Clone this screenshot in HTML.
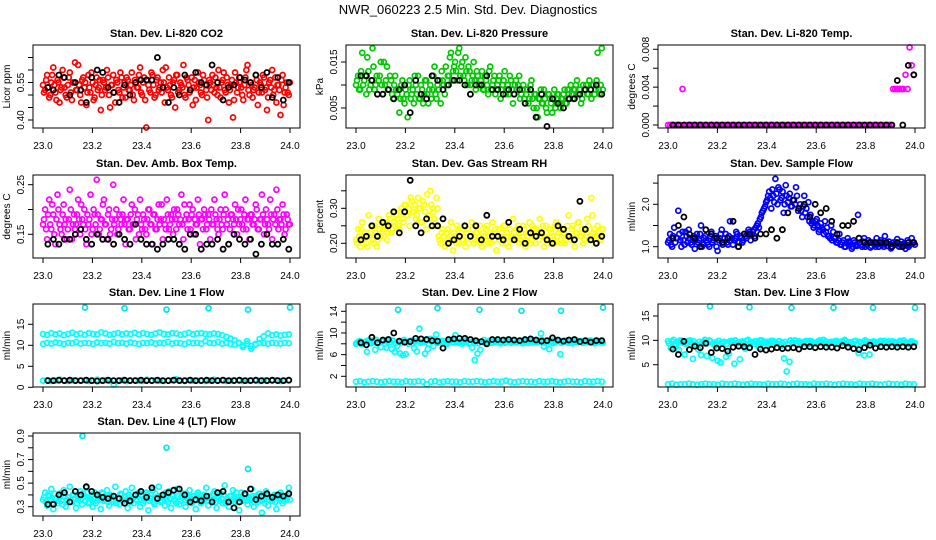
<!DOCTYPE html>
<html><head><meta charset="utf-8"><title>NWR_060223 Diagnostics</title>
<style>
html,body{margin:0;padding:0;background:#fff;}
svg{display:block;font-family:"Liberation Sans",Arial,sans-serif;}
</style></head>
<body>
<svg id="fig" width="936" height="540" viewBox="0 0 936 540" xmlns="http://www.w3.org/2000/svg">
<text x="468" y="14" text-anchor="middle" font-size="13">NWR_060223  2.5 Min. Std. Dev. Diagnostics</text>
</svg>
<script>
// ---------- data ----------
const xTickLabels = ["23.0","23.2","23.4","23.6","23.8","24.0"];
const xTickValues = [23.0,23.2,23.4,23.6,23.8,24.0];
const outlierTimes = [23.17,23.33,23.5,23.67,23.83,24.0];

const co2Vals = [0.54,0.52,0.58,0.49,0.55,0.61,0.51,0.56,0.47,0.53,0.57,0.50,0.54,0.59,0.48,0.55,0.52,0.62,0.50,0.56,
0.53,0.46,0.58,0.51,0.55,0.49,0.57,0.53,0.44,0.56,0.52,0.60,0.50,0.54,0.58,0.47,0.55,0.51,0.57,0.53,
0.49,0.56,0.52,0.59,0.48,0.55,0.53,0.61,0.50,0.57,0.37,0.54,0.51,0.58,0.49,0.56,0.52,0.55,0.60,0.47,
0.53,0.57,0.50,0.55,0.45,0.58,0.52,0.54,0.62,0.49,0.56,0.51,0.57,0.53,0.48,0.59,0.54,0.50,0.56,0.52,
0.40,0.55,0.58,0.51,0.53,0.60,0.49,0.56,0.52,0.57,0.47,0.54,0.41,0.59,0.51,0.55,0.53,0.48,0.57,0.62,
0.50,0.54,0.52,0.58,0.46,0.55,0.51,0.57,0.53,0.49,0.56,0.60,0.52,0.47,0.54,0.42,0.58,0.51,0.55,0.50];
const co2ValsB = [0.51,0.56,0.53,0.50,0.58,0.54,0.48,0.55,0.52,0.60,0.53,0.49,0.57,0.51,0.55,0.63,0.52,0.54,0.47,0.57,
0.55,0.51,0.53,0.59,0.48,0.54,0.52,0.56,0.50,0.55,0.53,0.57,0.45,0.54,0.51,0.56,0.52,0.59,0.49,0.55,
0.57,0.52,0.54,0.50,0.56,0.53,0.58,0.51,0.55,0.48,0.56,0.52,0.59,0.54,0.50,0.57,0.53,0.51,0.55,0.61,
0.52,0.54,0.49,0.56,0.58,0.51,0.55,0.53,0.50,0.57,0.54,0.52,0.46,0.56,0.53,0.55,0.51,0.58,0.54,0.49,
0.56,0.52,0.54,0.57,0.50,0.53,0.55,0.59,0.51,0.54,0.52,0.56,0.48,0.55,0.53,0.57,0.50,0.54,0.60,0.52,
0.55,0.49,0.53,0.56,0.51,0.54,0.58,0.52,0.44,0.55,0.53,0.50,0.57,0.54,0.52,0.56,0.46,0.53,0.51,0.55];
const co2Black = [0.53,0.52,0.58,0.57,0.50,0.55,0.52,0.47,0.57,0.60,0.59,0.53,0.51,0.47,0.54,0.50,0.55,0.56,0.56,0.56,0.65,0.53,0.47,0.53,0.50,0.58,0.52,0.59,0.55,0.54,0.62,0.55,0.48,0.53,0.54,0.57,0.56,0.55,0.58,0.53,0.59,0.49,0.57,0.48,0.55];

const pressVals = [0.010,0.012,0.009,0.017,0.011,0.008,0.013,0.010,0.018,0.009,0.012,0.011,0.015,0.008,0.010,0.014,0.009,0.011,0.007,0.012,
0.008,0.004,0.010,0.007,0.009,0.003,0.011,0.008,0.006,0.010,0.012,0.007,0.009,0.008,0.011,0.006,0.010,0.009,0.014,0.007,
0.009,0.006,0.011,0.008,0.010,0.012,0.017,0.013,0.015,0.011,0.018,0.014,0.012,0.016,0.010,0.013,0.011,0.015,0.009,0.012,
0.010,0.013,0.009,0.011,0.008,0.014,0.010,0.012,0.009,0.011,0.007,0.010,0.013,0.009,0.008,0.011,0.006,0.010,0.009,0.012,
0.008,0.010,0.006,0.009,0.007,0.011,0.005,0.008,0.003,0.007,0.006,0.009,0.005,0.008,0.007,0.004,0.009,0.006,0.008,0.005,
0.007,0.009,0.006,0.008,0.010,0.007,0.009,0.011,0.008,0.006,0.010,0.009,0.008,0.011,0.007,0.010,0.009,0.017,0.008,0.018];
const pressValsB = [0.011,0.009,0.013,0.010,0.012,0.016,0.009,0.011,0.014,0.010,0.008,0.012,0.010,0.015,0.011,0.009,0.012,0.008,0.010,0.009,
0.009,0.007,0.011,0.006,0.008,0.010,0.007,0.009,0.012,0.008,0.007,0.010,0.006,0.011,0.008,0.009,0.007,0.012,0.008,0.010,
0.011,0.013,0.010,0.014,0.012,0.016,0.011,0.014,0.013,0.017,0.012,0.015,0.011,0.013,0.014,0.010,0.012,0.011,0.013,0.010,
0.011,0.009,0.012,0.010,0.013,0.009,0.011,0.008,0.010,0.012,0.009,0.011,0.008,0.010,0.012,0.009,0.008,0.011,0.010,0.007,
0.009,0.007,0.008,0.006,0.010,0.007,0.008,0.005,0.007,0.009,0.006,0.007,0.004,0.008,0.006,0.007,0.005,0.008,0.006,0.007,
0.008,0.006,0.009,0.007,0.008,0.009,0.010,0.008,0.009,0.007,0.009,0.010,0.008,0.009,0.010,0.008,0.011,0.009,0.010,0.009];
const pressBlack = [0.012,0.012,0.011,0.008,0.008,0.009,0.007,0.009,0.010,0.004,0.011,0.008,0.007,0.012,0.011,0.009,0.010,0.011,0.011,0.010,0.008,0.010,0.010,0.012,0.009,0.009,0.008,0.009,0.008,0.009,0.006,0.009,0.003,0.008,0.001,0.007,0.006,0.005,0.007,0.007,0.008,0.009,0.009,0.010,0.008];

const tempVals = [0,0,0,0,0,0,0,0.0038,0,0,0,0,0,0,0,0,0,0,0,0,0,0,0,0,0,0,0,0,0,0,0,0,0,0,0,0,0,0,0,0,
0,0,0,0,0,0,0,0,0,0,0,0,0,0,0,0,0,0,0,0,0,0,0,0,0,0,0,0,0,0,0,0,0,0,0,0,0,0,0,0,
0,0,0,0,0,0,0,0,0,0,0,0,0,0,0,0,0,0,0,0,0,0,0,0,0,0,0,0,0,0.0038,0.0038,0.0038,0.0038,0.0038,0.0038,0.0053,0.0038,0.0082,0.0063,0.0053];
const tempBlack = [0,0,0,0,0,0,0,0,0,0,0,0,0,0,0,0,0,0,0,0,0,0,0,0,0,0,0,0,0,0,0,0,0,0,0,0,0,0,0,0,0,0.0047,0,0.0063,0.0053];

const ambVals = [0.17,0.20,0.14,0.22,0.16,0.19,0.13,0.23,0.17,0.15,0.21,0.18,0.16,0.24,0.14,0.19,0.17,0.22,0.15,0.18,
0.20,0.13,0.17,0.23,0.16,0.19,0.26,0.15,0.18,0.21,0.17,0.14,0.20,0.16,0.25,0.18,0.15,0.19,0.17,0.22,
0.13,0.18,0.16,0.21,0.17,0.14,0.19,0.22,0.16,0.18,0.15,0.20,0.17,0.13,0.19,0.16,0.21,0.18,0.14,0.17,
0.22,0.16,0.19,0.15,0.18,0.20,0.17,0.23,0.14,0.18,0.16,0.21,0.19,0.15,0.17,0.22,0.13,0.18,0.20,0.16,
0.19,0.14,0.17,0.22,0.18,0.15,0.20,0.16,0.23,0.17,0.13,0.19,0.18,0.21,0.15,0.17,0.20,0.16,0.22,0.18,
0.14,0.19,0.17,0.21,0.16,0.18,0.23,0.15,0.20,0.17,0.22,0.14,0.19,0.24,0.16,0.18,0.21,0.15,0.19,0.17];
const ambValsB = [0.18,0.16,0.19,0.17,0.21,0.15,0.18,0.20,0.16,0.19,0.17,0.14,0.18,0.20,0.17,0.16,0.19,0.18,0.21,0.17,
0.16,0.19,0.18,0.15,0.20,0.17,0.19,0.16,0.18,0.22,0.17,0.19,0.15,0.18,0.17,0.20,0.16,0.18,0.19,0.17,
0.18,0.16,0.19,0.17,0.20,0.18,0.15,0.17,0.19,0.16,0.18,0.20,0.17,0.19,0.16,0.18,0.17,0.21,0.18,0.16,
0.19,0.17,0.18,0.20,0.16,0.19,0.18,0.17,0.21,0.19,0.18,0.16,0.20,0.18,0.17,0.19,0.18,0.16,0.19,0.17,
0.18,0.20,0.17,0.19,0.16,0.18,0.17,0.19,0.20,0.18,0.16,0.19,0.17,0.18,0.20,0.18,0.17,0.19,0.16,0.18,
0.19,0.17,0.18,0.20,0.16,0.18,0.19,0.17,0.18,0.16,0.19,0.18,0.17,0.20,0.18,0.17,0.19,0.16,0.18,0.17];
const ambBlack = [0.13,0.14,0.13,0.14,0.14,0.15,0.16,0.14,0.13,0.15,0.14,0.14,0.13,0.15,0.14,0.13,0.17,0.14,0.13,0.13,0.12,0.13,0.14,0.14,0.13,0.12,0.15,0.15,0.12,0.13,0.13,0.14,0.12,0.13,0.15,0.14,0.13,0.14,0.11,0.13,0.15,0.13,0.13,0.14,0.12];

const rhVals = [0.21,0.24,0.19,0.26,0.22,0.20,0.28,0.23,0.21,0.25,0.19,0.27,0.22,0.24,0.26,0.21,0.28,0.23,0.29,0.25,
0.27,0.24,0.30,0.26,0.31,0.28,0.25,0.32,0.29,0.27,0.33,0.30,0.26,0.31,0.24,0.28,0.35,0.30,0.27,0.33,
0.22,0.20,0.24,0.19,0.23,0.21,0.26,0.18,0.22,0.25,0.20,0.23,0.21,0.19,0.24,0.22,0.26,0.20,0.23,0.21,
0.25,0.19,0.22,0.24,0.20,0.23,0.26,0.21,0.18,0.24,0.22,0.20,0.25,0.23,0.19,0.22,0.27,0.21,0.24,0.20,
0.23,0.25,0.19,0.22,0.26,0.21,0.24,0.20,0.23,0.27,0.22,0.19,0.25,0.21,0.24,0.22,0.20,0.26,0.23,0.21,
0.24,0.20,0.22,0.28,0.21,0.25,0.19,0.23,0.26,0.22,0.20,0.24,0.27,0.21,0.33,0.23,0.20,0.25,0.22,0.24];
const rhValsB = [0.20,0.22,0.24,0.21,0.23,0.19,0.22,0.25,0.20,0.23,0.21,0.24,0.26,0.22,0.25,0.23,0.27,0.24,0.26,0.28,
0.25,0.29,0.27,0.31,0.28,0.30,0.33,0.29,0.31,0.28,0.30,0.26,0.32,0.29,0.34,0.27,0.31,0.29,0.25,0.30,
0.21,0.23,0.22,0.20,0.24,0.22,0.21,0.23,0.20,0.24,0.22,0.21,0.25,0.23,0.20,0.22,0.24,0.21,0.23,0.22,
0.20,0.23,0.21,0.25,0.22,0.20,0.23,0.24,0.22,0.21,0.23,0.25,0.20,0.22,0.24,0.21,0.23,0.22,0.25,0.21,
0.22,0.24,0.21,0.23,0.20,0.25,0.22,0.24,0.21,0.23,0.25,0.22,0.20,0.24,0.23,0.21,0.25,0.22,0.24,0.20,
0.23,0.21,0.25,0.22,0.24,0.21,0.23,0.26,0.22,0.24,0.21,0.23,0.25,0.22,0.28,0.24,0.22,0.23,0.21,0.24];
const rhBlack = [0.21,0.22,0.25,0.22,0.26,0.25,0.29,0.23,0.29,0.38,0.25,0.23,0.27,0.25,0.25,0.27,0.20,0.21,0.22,0.25,0.22,0.25,0.21,0.28,0.22,0.22,0.21,0.26,0.21,0.24,0.20,0.23,0.22,0.23,0.21,0.20,0.25,0.24,0.22,0.21,0.32,0.24,0.21,0.20,0.22];

const flowVals = [1.10,1.30,1.00,1.45,1.20,1.85,1.15,1.35,1.05,1.25,1.40,1.10,1.20,0.95,1.30,1.15,1.50,1.05,1.25,1.10,
1.00,1.35,1.15,1.25,0.90,1.20,1.40,1.10,1.30,1.05,1.60,1.20,1.15,1.35,1.00,1.25,1.10,1.30,1.20,1.40,
1.15,1.35,1.25,1.50,1.45,1.70,1.85,1.95,2.10,2.30,1.90,2.20,2.60,2.00,2.35,2.15,1.80,2.45,2.05,2.25,
1.95,2.10,2.40,1.85,2.00,1.70,2.20,1.90,2.05,1.75,1.60,1.50,1.65,1.35,1.55,1.40,1.60,1.45,1.25,1.50,
1.35,1.20,1.10,1.30,1.05,1.15,1.00,1.20,1.10,0.95,1.15,1.05,1.75,1.10,1.00,1.20,1.05,1.15,0.98,1.10,
1.05,1.20,1.00,1.15,1.08,1.25,1.02,1.12,0.96,1.10,1.05,1.18,1.00,1.12,1.06,0.95,1.15,1.04,1.20,1.10];
const flowValsB = [1.15,1.05,1.25,1.10,1.20,1.30,1.00,1.15,1.35,1.10,1.20,1.05,1.25,1.15,1.10,1.30,1.00,1.20,1.15,1.05,
1.25,1.10,1.20,1.00,1.15,1.30,1.05,1.20,1.10,1.25,1.15,1.05,1.20,1.30,1.10,1.20,1.15,1.25,1.30,1.35,
1.30,1.40,1.45,1.55,1.65,1.80,1.90,2.05,2.20,2.15,2.35,2.05,2.25,2.40,2.10,2.30,2.00,2.20,2.15,1.95,
2.10,2.00,2.20,1.90,1.85,1.95,1.80,1.70,1.60,1.55,1.45,1.60,1.50,1.40,1.45,1.30,1.35,1.25,1.20,1.15,
1.20,1.10,1.15,1.05,1.10,1.00,1.08,1.12,1.05,1.00,1.10,1.02,1.08,1.05,1.12,1.00,1.06,1.10,1.02,1.08,
1.00,1.06,1.10,1.04,1.00,1.08,1.02,1.06,1.00,1.05,1.10,1.02,1.06,1.00,1.08,1.04,1.00,1.06,1.10,1.05];
const flowBlack = [1.2,1.5,1.7,1.3,1.2,1.0,1.4,1.3,1.2,1.1,1.2,1.6,1.0,1.3,1.3,1.2,1.3,1.3,1.4,1.2,1.4,1.8,2.1,1.9,2.0,1.7,2.0,1.8,1.9,1.6,1.3,1.5,1.5,1.6,1.2,1.1,1.1,1.1,1.1,1.1,1.0,1.1,1.0,1.1,1.1];

const line1Upper = [12.7,12.5,12.9,12.6,12.8,12.4,12.7,13.0,12.6,12.8,12.5,12.9,12.7,12.6,13.1,12.8,12.5,12.7,12.9,12.6,
12.8,12.7,13.0,12.6,12.9,12.7,12.5,12.8,13.1,12.7,12.6,12.9,12.8,12.5,12.7,13.0,12.6,12.8,12.9,12.7,
12.6,12.8,12.7,12.4,12.0,11.6,11.2,10.6,9.6,11.0,9.2,10.2,11.5,12.2,12.8,12.4,12.6,12.3,12.5,12.6];
const line1Lower = [10.3,10.6,10.4,10.7,10.5,10.3,10.6,10.5,10.8,10.4,10.6,10.5,10.3,10.7,10.5,10.6,10.4,10.8,10.5,10.6,
10.4,10.7,10.5,10.3,10.6,10.5,10.7,10.4,10.6,10.5,10.8,10.4,10.6,10.5,10.3,10.7,10.5,10.6,10.4,11.0,
10.6,10.5,10.8,10.4,10.6,10.3,10.2,10.5,10.0,10.4,9.8,10.3,10.6,10.5,10.4,10.6,10.5,10.4,10.6,10.5];
const line1Low = [1.6,1.7,1.5,1.6,1.8,1.6,1.5,1.7,1.6,1.6,1.7,1.5,1.6,1.8,1.6,1.7,1.6,0.7,1.6,1.7,
1.5,1.6,1.7,1.6,1.5,1.8,1.6,1.7,1.6,1.5,1.6,1.7,1.9,1.6,1.5,1.7,1.6,1.6,1.7,1.5,
1.6,1.8,1.6,1.7,1.5,1.6,1.7,1.6,1.5,1.6,1.7,1.6,1.5,1.7,1.6,1.6,1.7,1.5,1.6,1.7];
const line1Out = [19.0,18.8,18.5,18.8,18.5,19.0];
const line1Black = [1.6,1.6,1.7,1.6,1.7,1.6,1.6,1.7,1.6,1.5,1.6,1.7,1.6,1.6,1.7,1.6,1.6,1.7,1.6,1.6,1.7,1.6,1.6,1.7,1.6,1.6,1.7,1.6,1.6,1.7,1.6,1.6,1.7,1.6,1.6,1.7,1.6,1.6,1.7,1.6,1.6,1.7,1.6,1.6,1.7];

const line2Main = [8.0,8.4,7.9,8.3,6.5,8.2,8.6,6.9,8.1,7.4,8.5,7.3,8.8,7.0,6.5,7.6,6.2,5.9,6.1,8.0,
8.6,7.2,6.6,10.8,8.3,6.2,7.0,8.9,7.6,9.7,8.2,8.5,8.4,8.0,8.6,8.3,9.6,8.2,8.5,8.3,
8.7,8.0,7.3,5.0,6.2,6.9,8.3,8.1,8.5,8.2,8.6,8.4,8.3,8.5,8.2,8.7,8.4,8.6,8.3,8.5,
8.4,8.6,8.2,8.5,8.7,8.3,8.6,9.9,7.5,8.4,7.0,8.6,8.3,8.5,6.1,8.4,8.6,8.2,8.5,8.3,
8.6,8.4,8.2,8.5,8.3,8.6,8.4,8.2,8.5,8.3];
const line2MainB = [8.2,8.5,8.0,8.4,8.6,8.1,8.3,8.7,8.2,8.4,8.0,8.5,8.3,8.6,8.1,8.4,8.2,8.7,8.3,8.5,
8.1,8.4,8.6,8.2,8.3,8.5,8.0,8.4,8.6,8.2,8.3,8.5,8.1,8.4,8.7,8.2,8.5,8.3,8.0,8.4,
8.6,8.2,8.5,8.3,8.1,8.4,8.7,8.3,8.5,8.2,8.4,8.6,8.1,8.5,8.3,8.4,8.2,8.6,8.3,8.5,
8.1,8.4,8.6,8.2,8.5,8.3,8.4,8.7,8.2,8.5,8.3,8.1,8.4,8.6,8.2,8.5,8.3,8.4,8.1,8.6,
8.3,8.5,8.2,8.4,8.6,8.3,8.1,8.5,8.4,8.2];
const line2Low = [1.0,1.1,0.9,1.0,1.1,1.0,0.9,1.0,1.1,1.0,1.0,0.9,1.1,1.0,1.0,1.1,1.0,0.5,1.0,1.1,
0.9,1.0,1.1,1.0,1.0,0.9,1.1,1.0,1.0,1.1,1.0,0.9,1.0,1.1,1.0,1.0,1.2,1.0,0.9,1.0,
1.1,1.0,1.0,0.9,1.1,1.0,1.0,1.1,1.0,0.9,1.0,1.1,1.0,1.0,0.9,1.1,1.0,1.0,1.1,1.0];
const line2Out = [14.3,14.6,14.3,14.1,14.1,14.7];
const line2Black = [8.2,7.8,9.2,8.2,8.7,8.8,10.0,8.5,8.3,8.4,9.0,8.9,8.8,8.6,8.5,7.2,8.8,8.9,9.0,9.0,8.8,8.6,8.4,8.0,8.8,8.8,8.7,8.8,8.7,8.6,8.8,8.9,8.7,8.5,8.6,9.1,8.7,8.5,8.7,8.8,8.4,8.6,8.3,8.6,8.6];

const line3Main = [9.8,8.4,10.1,9.2,8.0,9.9,7.1,9.5,10.0,6.2,9.3,8.1,7.0,9.7,6.8,10.0,6.4,8.9,5.8,5.5,
9.6,6.6,7.3,9.9,5.2,9.4,6.1,9.8,8.3,10.1,9.5,9.2,9.8,8.6,10.0,9.4,9.7,9.1,9.9,9.5,
9.8,8.9,6.3,3.6,5.6,9.6,10.0,9.2,9.7,9.4,9.9,9.3,9.8,9.5,9.6,10.0,9.4,9.8,9.2,9.7,
9.5,9.9,9.3,9.8,10.1,9.4,9.6,9.2,9.9,7.4,9.5,6.9,9.8,7.1,9.4,9.7,9.3,9.9,9.5,9.6,
9.8,9.4,9.7,9.2,9.9,9.5,9.6,9.3,9.8,9.5];
const line3MainB = [9.4,9.8,9.2,9.7,10.0,9.5,9.3,9.9,9.6,9.8,9.2,9.7,9.5,10.1,9.4,9.8,9.3,9.6,9.9,9.5,
9.7,9.3,9.8,9.6,10.0,9.4,9.7,9.5,9.9,9.3,9.6,9.8,9.4,10.0,9.5,9.7,9.3,9.9,9.6,9.4,
9.8,9.5,9.7,9.3,10.0,9.6,9.4,9.8,9.5,9.7,9.3,9.9,9.6,9.4,9.8,9.5,10.1,9.7,9.4,9.6,
9.8,9.3,9.7,9.5,9.9,9.4,9.6,9.8,9.3,9.7,9.5,10.0,9.4,9.6,9.8,9.5,9.3,9.7,9.9,9.4,
9.6,9.8,9.5,9.3,9.7,10.0,9.4,9.6,9.8,9.5];
const line3Low = [1.0,1.1,0.9,1.0,1.0,1.1,1.0,0.9,1.0,1.1,1.0,1.0,0.9,1.1,1.0,1.0,1.1,1.0,0.9,1.0,
1.1,1.0,1.0,0.9,1.1,1.0,1.0,1.1,1.0,0.9,1.0,1.1,1.0,1.0,0.9,1.1,1.0,1.0,1.1,1.0,
0.9,1.0,1.1,1.0,1.0,0.9,1.1,1.0,1.0,1.1,1.0,0.9,1.0,1.1,1.0,1.0,0.9,1.1,1.0,1.0];
const line3Out = [17.0,16.8,16.7,16.7,16.7,16.7];
const line3Black = [8.2,7.1,9.8,8.1,8.8,8.5,9.4,7.5,8.4,8.3,7.8,8.6,8.8,8.7,8.5,7.1,8.2,8.0,8.2,8.5,8.3,8.4,8.5,8.2,8.7,8.7,8.5,8.7,8.6,8.6,8.4,8.9,8.6,8.3,8.1,8.5,9.0,8.4,8.7,8.6,8.7,8.6,8.7,8.6,8.7];

const line4Vals = [0.36,0.42,0.31,0.39,0.45,0.28,0.37,0.33,0.41,0.35,0.44,0.30,0.38,0.47,0.34,0.40,0.29,0.36,0.43,0.32,
0.39,0.46,0.33,0.37,0.30,0.42,0.35,0.38,0.28,0.41,0.36,0.44,0.31,0.39,0.34,0.47,0.37,0.32,0.40,0.35,
0.43,0.29,0.38,0.46,0.33,0.36,0.41,0.30,0.39,0.35,0.42,0.27,0.37,0.44,0.32,0.38,0.47,0.34,0.40,0.31,
0.36,0.43,0.29,0.39,0.35,0.45,0.32,0.38,0.41,0.30,0.37,0.44,0.33,0.39,0.28,0.42,0.36,0.34,0.40,0.46,
0.31,0.38,0.35,0.43,0.29,0.37,0.41,0.33,0.48,0.36,0.30,0.39,0.44,0.34,0.38,0.27,0.42,0.35,0.40,0.32,
0.37,0.45,0.30,0.39,0.34,0.41,0.25,0.36,0.43,0.31,0.38,0.35,0.40,0.28,0.37,0.42,0.33,0.39,0.36,0.46];
const line4ValsB = [0.38,0.34,0.40,0.36,0.33,0.41,0.37,0.35,0.39,0.32,0.42,0.36,0.38,0.34,0.40,0.37,0.33,0.39,0.36,0.41,
0.35,0.38,0.34,0.40,0.37,0.33,0.39,0.36,0.42,0.35,0.38,0.34,0.40,0.36,0.39,0.33,0.37,0.41,0.35,0.38,
0.36,0.40,0.34,0.37,0.39,0.35,0.42,0.36,0.33,0.38,0.40,0.35,0.37,0.34,0.41,0.36,0.39,0.35,0.38,0.42,
0.34,0.37,0.40,0.36,0.33,0.39,0.35,0.38,0.36,0.41,0.34,0.37,0.39,0.35,0.40,0.36,0.33,0.38,0.37,0.35,
0.39,0.36,0.41,0.34,0.38,0.35,0.37,0.40,0.33,0.36,0.39,0.35,0.38,0.42,0.34,0.37,0.36,0.40,0.35,0.38,
0.36,0.39,0.34,0.37,0.41,0.35,0.38,0.33,0.40,0.36,0.37,0.39,0.34,0.38,0.36,0.40,0.35,0.37,0.39,0.36];
const line4Out = [0.9,0.8,0.62];
const line4OutTimes = [23.16,23.5,23.83];
const line4Black = [0.32,0.32,0.40,0.42,0.34,0.43,0.40,0.47,0.43,0.40,0.38,0.37,0.39,0.37,0.33,0.35,0.40,0.43,0.38,0.46,0.37,0.40,0.42,0.44,0.45,0.40,0.34,0.36,0.35,0.39,0.34,0.42,0.43,0.34,0.29,0.34,0.41,0.45,0.36,0.39,0.41,0.38,0.40,0.39,0.41];

// ---------- layout ----------
const colLeft = [33, 346, 658];
const rowTop = [45, 175, 304, 433];
const boxW = 267, boxH = 83;
const svg = document.getElementById('fig');
const NS = 'http://www.w3.org/2000/svg';

function mk(tag, attrs, parent){
  const e = document.createElementNS(NS, tag);
  for (const k in attrs) e.setAttribute(k, attrs[k]);
  (parent||svg).appendChild(e);
  return e;
}
function times(n, t0, t1){ const a=[]; for(let i=0;i<n;i++) a.push(t0+(t1-t0)*i/(n-1)); return a; }

const panels = [
 {name:'co2', title:'Stan. Dev. Li-820 CO2', ylab:'Licor ppm', col:0,row:0, v0:0.40,p0:120,v1:0.55,p1:82.5,
  ticks:[0.40,0.45,0.50,0.55,0.60,0.65], labels:['0.40','0.55'], labelVals:[0.40,0.55],
  series:[{vals:co2Vals,color:'#ff0000'},{vals:co2ValsB,color:'#ff0000',off:true}], black:co2Black},
 {name:'pressure', title:'Stan. Dev. Li-820 Pressure', ylab:'kPa', col:1,row:0, v0:0.005,p0:108,v1:0.015,p1:62,
  ticks:[0.005,0.010,0.015], labels:['0.005','0.015'], labelVals:[0.005,0.015],
  series:[{vals:pressVals,color:'#00c800'},{vals:pressValsB,color:'#00c800',off:true}], black:pressBlack},
 {name:'li820-temp', title:'Stan. Dev. Li-820 Temp.', ylab:'degrees C', col:2,row:0, v0:0,p0:125,v1:0.008,p1:49.3,
  ticks:[0,0.002,0.004,0.006,0.008], labels:['0.000','0.004','0.008'], labelVals:[0,0.004,0.008],
  series:[{vals:tempVals,color:'#ff00ff'}], black:tempBlack},
 {name:'amb-box-temp', title:'Stan. Dev. Amb. Box Temp.', ylab:'degrees C', col:0,row:1, v0:0.15,p0:234.3,v1:0.25,p1:184.7,
  ticks:[0.15,0.20,0.25], labels:['0.15','0.25'], labelVals:[0.15,0.25],
  series:[{vals:ambVals,color:'#ff00ff'},{vals:ambValsB,color:'#ff00ff',off:true}], black:ambBlack},
 {name:'gas-stream-rh', title:'Stan. Dev. Gas Stream RH', ylab:'percent', col:1,row:1, v0:0.20,p0:243.3,v1:0.30,p1:208.3,
  ticks:[0.20,0.25,0.30,0.35], labels:['0.20','0.30'], labelVals:[0.20,0.30],
  series:[{vals:rhVals,color:'#ffff00'},{vals:rhValsB,color:'#ffff00',off:true}], black:rhBlack},
 {name:'sample-flow', title:'Stan. Dev. Sample Flow', ylab:'ml/min', col:2,row:1, v0:1.0,p0:246.7,v1:2.0,p1:204.3,
  ticks:[1.0,1.5,2.0,2.5], labels:['1.0','2.0'], labelVals:[1.0,2.0],
  series:[{vals:flowVals,color:'#0000ff'},{vals:flowValsB,color:'#0000ff',off:true}], black:flowBlack},
 {name:'line1-flow', title:'Stan. Dev. Line 1 Flow', ylab:'ml/min', col:0,row:2, v0:0,p0:387.3,v1:15,p1:324.3,
  ticks:[0,5,10,15], labels:['0','5','10','15'], labelVals:[0,5,10,15],
  series:[{vals:line1Upper,color:'#00ffff'},{vals:line1Lower,color:'#00ffff'},{vals:line1Low,color:'#00ffff'},{vals:line1Out,t:outlierTimes,color:'#00e5ee'}], black:line1Black},
 {name:'line2-flow', title:'Stan. Dev. Line 2 Flow', ylab:'ml/min', col:1,row:2, v0:2,p0:376.3,v1:14,p1:311.3,
  ticks:[2,4,6,8,10,12,14], labels:['2','6','10','14'], labelVals:[2,6,10,14],
  series:[{vals:line2Main,color:'#00ffff'},{vals:line2MainB,color:'#00ffff',off:true},{vals:line2Low,color:'#00ffff'},{vals:line2Out,t:outlierTimes,color:'#00e5ee'}], black:line2Black},
 {name:'line3-flow', title:'Stan. Dev. Line 3 Flow', ylab:'ml/min', col:2,row:2, v0:5,p0:364.7,v1:15,p1:316,
  ticks:[5,10,15], labels:['5','10','15'], labelVals:[5,10,15],
  series:[{vals:line3Main,color:'#00ffff'},{vals:line3MainB,color:'#00ffff',off:true},{vals:line3Low,color:'#00ffff'},{vals:line3Out,t:outlierTimes,color:'#00e5ee'}], black:line3Black},
 {name:'line4-flow', title:'Stan. Dev. Line 4 (LT) Flow', ylab:'ml/min', col:0,row:3, v0:0.3,p0:506.7,v1:0.9,p1:436,
  ticks:[0.3,0.4,0.5,0.6,0.7,0.8,0.9], labels:['0.3','0.5','0.7','0.9'], labelVals:[0.3,0.5,0.7,0.9],
  series:[{vals:line4Vals,color:'#00ffff'},{vals:line4ValsB,color:'#00ffff',off:true},{vals:line4Out,t:line4OutTimes,color:'#00e5ee'}], black:line4Black}
];

panels.forEach(p => {
  const L = colLeft[p.col], T = rowTop[p.row];
  const xs = t => L + 10 + (t - 23) * 247;
  const ys = v => p.p0 + (v - p.v0) * (p.p1 - p.p0) / (p.v1 - p.v0);
  const g = mk('g', {});
  
  

  const title = mk('text', {x: L + boxW/2, y: T - 8, 'text-anchor':'middle', 'font-size':11, 'font-weight':'bold'}, g);
  title.textContent = p.title;
  
  

  const pts = mk('g', {fill:'none', 'stroke-width':1.7}, g);
  
  
  p.series.forEach(s => {
    const tt = s.t || (s.off ? times(s.vals.length, 23.004, 23.999) : times(s.vals.length, 23.0, 23.995));
    s.vals.forEach((v, i) => {
      const c = mk('circle', {cx: xs(tt[i]).toFixed(1), cy: ys(v).toFixed(1), r: 2.5, stroke: s.color}, pts);
      
      
    });
  });
  const bt = times(p.black.length, 23.02, 23.995);
  p.black.forEach((v, i) => {
    const c = mk('circle', {cx: xs(bt[i]).toFixed(1), cy: ys(v).toFixed(1), r: 2.5, stroke: '#000', 'stroke-width':1.8}, pts);
    
    
  });

  const box = mk('rect', {x: L, y: T, width: boxW, height: boxH, fill:'none', stroke:'#000', 'stroke-width':1}, g);
  
  

  const xa = mk('g', {}, g);
  
  
  xTickValues.forEach((t, i) => {
    mk('line', {x1: xs(t), x2: xs(t), y1: T + boxH, y2: T + boxH + 5, stroke:'#000'}, xa);
    const tx = mk('text', {x: xs(t), y: T + boxH + 21, 'text-anchor':'middle', 'font-size':10}, xa);
    tx.textContent = xTickLabels[i];
    
    
  });

  const ya = mk('g', {}, g);
  
  
  p.ticks.forEach(v => {
    mk('line', {x1: L - 5, x2: L, y1: ys(v), y2: ys(v), stroke:'#000'}, ya);
  });
  p.labelVals.forEach((v, i) => {
    const x = L - 9, y = ys(v);
    const tx = mk('text', {x: x, y: y, 'text-anchor':'middle', 'font-size':10, transform:`rotate(-90 ${x} ${y})`}, ya);
    tx.textContent = p.labels[i];
    
    
  });
  const yx = L - 23, yy = T + boxH/2;
  const yl = mk('text', {x: yx, y: yy, 'text-anchor':'middle', 'font-size':10, transform:`rotate(-90 ${yx} ${yy})`}, ya);
  yl.textContent = p.ylab;
  
  
});
</script>
</body></html>
